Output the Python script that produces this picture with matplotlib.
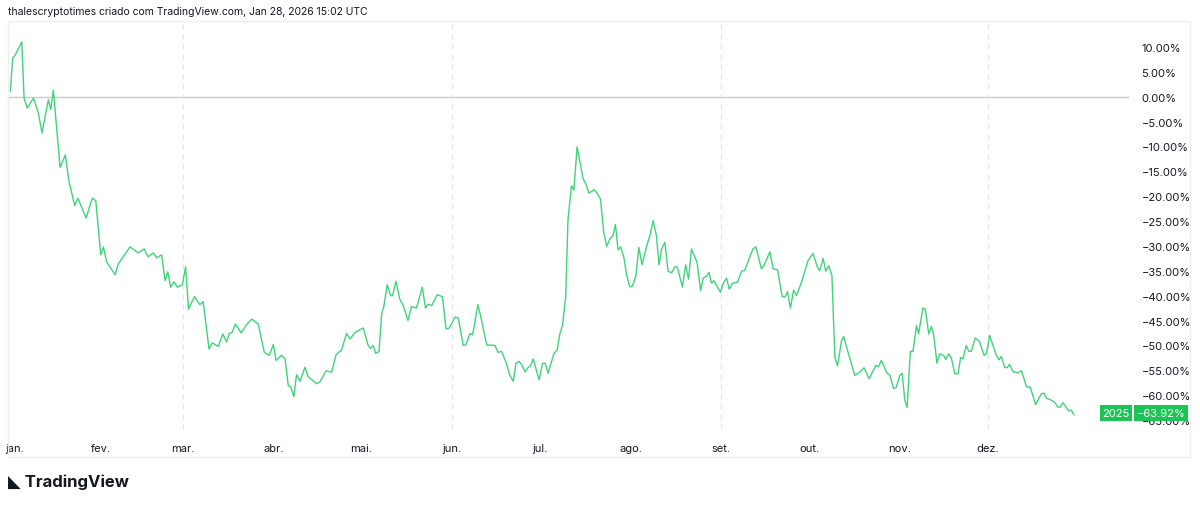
""" TradingView style yearly performance line (2025). """

import matplotlib
matplotlib.use("Agg")
import matplotlib.pyplot as plt
from matplotlib.patches import Rectangle

plt.rcParams["font.family"] = ["Inter", "DejaVu Sans"]

W, H = 1200, 506

# Day of year (0 = Jan 1) and percent change
days = [0, 0.8, 1.8, 3.9, 4.7, 5.8, 7.9, 9.6, 10.8, 13.0, 13.8, 14.7, 17.0, 18.8, 20.0,
        22.0, 23.1, 25.9, 28.0, 29.2, 30.9, 31.8, 32.9, 35.8, 36.9, 38.8, 40.9, 43.7,
        45.7, 47.1, 48.9, 50.0, 51.7, 52.9, 53.8, 54.8, 55.9, 57.1, 58.8, 59.9, 60.9,
        62.9, 64.8, 65.9, 67.9, 69.0, 71.1, 72.6, 73.9, 74.8, 75.8, 76.9, 78.9, 80.5,
        82.5, 84.7, 86.8, 88.5, 89.9, 90.8, 92.7, 93.9, 95.0, 95.8, 96.9, 97.8, 99.0,
        100.7, 101.8, 104.7, 105.8, 107.9, 109.8, 111.3, 113.2, 114.9, 116.1, 117.8,
        120.6, 122.3, 123.1, 124.0, 124.9, 126.0, 126.9, 127.7, 128.8, 130.0, 130.6,
        131.8, 133.1, 134.3, 135.9, 137.1, 138.8, 140.8, 141.9, 142.8, 144.0, 145.9,
        147.7, 148.9, 150.0, 152.0, 153.1, 154.8, 155.7, 157.1, 158.0, 159.8, 160.7,
        162.8, 165.6, 166.7, 167.9, 169.6, 170.7, 171.9, 172.8, 173.8, 174.8, 175.9,
        177.0, 177.8, 178.7, 180.7, 181.9, 182.8, 183.8, 185.8, 186.9, 187.8, 188.7,
        189.8, 190.6, 191.8, 192.6, 193.7, 195.8, 196.6, 197.8, 199.5, 200.5, 201.7,
        202.8, 203.8, 204.9, 206.0, 206.8, 207.7, 208.6, 209.7, 210.6, 211.7, 212.6,
        213.8, 214.8, 215.9, 217.4, 218.6, 219.7, 220.8, 221.7, 222.6, 223.7, 224.8,
        226.0, 227.1, 228.0, 229.7, 230.8, 231.8, 232.8, 234.7, 235.9, 236.8, 237.9,
        238.8, 239.6, 240.4, 242.7, 243.8, 244.8, 245.7, 246.8, 248.5, 249.9, 251.0,
        252.7, 253.8, 254.8, 256.7, 257.5, 259.6, 260.7, 262.2, 263.8, 264.7, 265.6,
        266.6, 267.7, 268.7, 270.4, 272.6, 274.3, 275.7, 276.6, 277.8, 278.7, 279.7,
        280.8, 281.8, 282.7, 284.1, 284.8, 286.6, 288.6, 290.1, 291.8, 293.5, 295.8,
        296.7, 297.7, 299.6, 300.6, 301.9, 302.8, 304.0, 304.8, 305.7, 306.5, 307.6,
        308.5, 309.7, 310.4, 311.9, 312.7, 313.9, 314.8, 315.6, 316.7, 317.6, 319.0,
        319.7, 320.7, 321.6, 322.8, 323.9, 324.8, 325.6, 326.7, 327.6, 328.4, 329.8,
        331.2, 332.8, 333.6, 334.7, 336.1, 337.0, 337.9, 338.7, 339.8, 340.6, 341.5,
        342.7, 344.4, 345.6, 347.3, 348.6, 350.4, 352.4, 353.3, 354.1, 355.4, 356.9,
        358.0, 358.9, 359.7, 361.8, 362.6, 363.5]
pct = [1.1, 7.7, 8.5, 11.0, -0.3, -2.3, -0.3, -3.3, -7.3, -0.6, -2.6, 1.3, -14.2, -11.7, -16.9,
       -21.9, -20.4, -24.4, -20.4, -20.9, -31.8, -30.2, -33.2, -35.8, -33.6, -32.0, -30.2, -31.4,
       -30.6, -32.2, -31.4, -32.4, -31.8, -37.0, -35.2, -38.3, -37.2, -38.3, -37.8, -34.2, -42.7,
       -40.2, -41.8, -41.2, -50.7, -49.5, -50.2, -47.7, -49.3, -47.6, -47.4, -45.7, -47.5, -46.0,
       -44.7, -45.7, -51.4, -52.0, -49.8, -53.0, -52.0, -52.7, -58.1, -58.3, -60.3, -55.9, -57.2,
       -54.4, -56.3, -57.7, -57.3, -55.1, -55.4, -51.9, -50.9, -47.6, -48.7, -47.4,
       -46.5, -50.0, -50.6, -50.0, -51.6, -51.2, -43.7, -42.0, -37.8, -40.0, -40.0,
       -37.1, -40.7, -42.0, -45.0, -42.2, -42.5, -38.3, -42.5, -41.7, -42.0, -39.8,
       -40.2, -46.7, -46.5, -44.3, -44.5, -50.0, -49.9, -47.6, -47.9, -41.8, -44.0,
       -49.9, -50.0, -51.4, -51.2, -53.7, -56.0, -57.2, -53.6, -53.2, -53.9, -55.3,
       -54.4, -54.1, -52.7, -56.9, -53.6, -53.6, -55.6, -51.6, -50.9, -47.7, -46.0,
       -40.3, -24.6, -17.9, -18.8, -10.1, -16.6, -17.4, -19.4, -18.7, -19.4, -20.6,
       -27.3, -30.1, -28.6, -27.9, -25.7, -30.8, -30.2, -32.3, -35.8, -38.2, -38.1,
       -36.0, -30.3, -33.8, -30.2, -27.9, -24.9, -27.9, -33.8, -30.6, -29.3, -35.1,
       -35.4, -34.2, -34.3, -38.3, -33.8, -36.7, -30.6, -33.3, -39.0, -36.5, -36.1,
       -35.3, -37.5, -37.0, -39.3, -37.3, -36.5, -38.7, -37.5, -37.3, -35.1, -34.9,
       -32.3, -30.6, -30.2, -34.6, -34.0, -31.2, -34.6, -34.8, -40.2, -40.3, -39.2,
       -42.5, -38.9, -40.0, -37.3, -33.0, -31.5, -34.0, -35.0, -32.5, -35.1, -34.0,
       -36.0, -52.4, -54.1, -49.0, -48.2, -52.0, -56.0, -55.5, -54.5, -56.7, -54.0,
       -54.3, -53.0, -55.6, -56.0, -58.7, -58.4, -56.0, -55.6, -61.0, -62.5, -51.2,
       -51.2, -46.0, -47.7, -42.5, -42.7, -47.7, -46.2, -48.0, -53.6, -51.7, -52.0,
       -52.8, -51.7, -52.5, -55.7, -55.7, -52.4, -52.7, -50.0, -51.2, -51.2, -48.5,
       -49.2, -52.0, -51.7, -48.0, -50.4, -52.0, -52.9, -52.2, -54.4, -54.5, -53.8,
       -55.3, -55.5, -55.1, -58.3, -58.4, -61.9, -59.7, -59.6, -60.6, -60.9, -61.4,
       -62.4, -62.4, -61.5, -63.2, -63.0, -63.92]

month_days = [0, 31, 59, 90, 120, 151, 181, 212, 243, 273, 304, 334]
month_labels = ["jan.", "fev.", "mar.", "abr.", "mai.", "jun.", "jul.",
                "ago.", "set.", "out.", "nov.", "dez."]
grid_days = [59, 151, 243, 334]
y_ticks = list(range(10, -70, -5))

LINE = "#3fd47a"
BADGE = "#1cc455"
TXT = "#131722"

fig = plt.figure(figsize=(W / 100, H / 100), dpi=100)
ax = fig.add_axes([8 / W, (H - 430) / H, (1090 - 8) / W, (430 - 22) / H])

ax.plot(days, pct, color=LINE, lw=1.0)
# zero line runs on under the price scale, up to the labels
ax.plot([-0.8, 382], [0, 0], color="#c8cad0", lw=1.0, zorder=0, clip_on=False)
for d in grid_days:
    ax.axvline(d, color="#e0e3eb", lw=0.9, ls=(0, (4, 4)), zorder=0)

ax.set_xlim(-0.8, 369)
ax.set_ylim(-66.8, 15.2)
for s in ax.spines.values():
    s.set_visible(False)

ax.set_xticks([d + 1.5 if d == 0 else d for d in month_days])
ax.set_xticklabels(month_labels)
ax.yaxis.tick_right()
ax.set_yticks(y_ticks)
ax.set_yticklabels([f"{v:.2f}%".replace("-", "\u2212") for v in y_ticks])
ax.tick_params(axis="y", length=0, pad=37, labelsize=8, labelcolor=TXT)
ax.tick_params(axis="x", length=0, pad=10, labelsize=8, labelcolor=TXT)

# chart frame
fig.patches.append(Rectangle((8 / W, (H - 458) / H), (1190 - 8) / W, (458 - 22) / H,
                             transform=fig.transFigure, fill=False,
                             edgecolor="#eeeff2", lw=1.0))

# last value badge
yb = (H - 414) / H
fig.text(1116 / W, yb, "2025", ha="center", va="center", color="white", fontsize=8,
         bbox=dict(boxstyle="square,pad=0.25", fc=BADGE, ec="none"))
fig.text(1161 / W, yb, "\u221263.92%", ha="center", va="center", color="white", fontsize=8,
         bbox=dict(boxstyle="square,pad=0.25", fc=BADGE, ec="none"))

fig.text(8 / W, (H - 12) / H, "thalescryptotimes criado com TradingView.com, Jan 28, 2026 15:02 UTC",
         ha="left", va="center", fontsize=7.5, color=TXT)
fig.text(8 / W, (H - 482) / H, "\u25e3 TradingView", ha="left", va="center",
         fontsize=12, fontweight="bold", color=TXT)

fig.savefig("out.png", dpi=100, facecolor="white")
plt.close(fig)
